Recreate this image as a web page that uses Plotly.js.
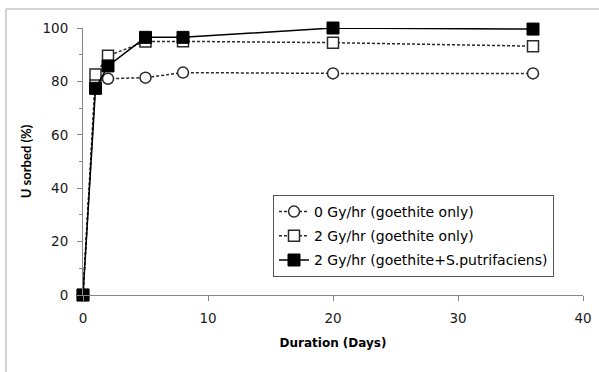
<!DOCTYPE html>
<html>
<head>
<meta charset="utf-8">
<script src="https://cdn.plot.ly/plotly-3.0.1.min.js"></script>
<style>html,body{margin:0;padding:0;background:#fff;}#chart{width:599px;height:372px;}</style>
</head>
<body>
<div id="chart"></div>
<script>
const days = [0, 1, 2, 5, 8, 20, 36];
const gy0Goethite = [0, 80, 81, 81.4, 83.3, 83, 83];
const gy2Goethite = [0, 82.6, 89.6, 94.9, 95, 94.5, 93.2];
const gy2GoethiteBact = [0, 77.4, 85.8, 96.5, 96.5, 100, 99.6];
const seriesNames = ["0 Gy/hr (goethite only)", "2 Gy/hr (goethite only)", "2 Gy/hr (goethite+S.putrifaciens)"];
const xTicks = [0, 10, 20, 30, 40];
const yTicks = [0, 20, 40, 60, 80, 100];

const lineCol = '#2a2a2a';
const traces = [
  {x: days, y: gy0Goethite, name: seriesNames[0], legendgroup: 'a', type: 'scatter', mode: 'lines+markers', cliponaxis: false,
   line: {color: lineCol, width: 1.5, dash: '3px,2px'},
   marker: {symbol: 'circle', size: 11, color: '#fff', line: {color: lineCol, width: 1.5}}},
  {x: days, y: gy2Goethite, name: seriesNames[1], legendgroup: 'b', type: 'scatter', mode: 'lines+markers', cliponaxis: false,
   line: {color: lineCol, width: 1.5, dash: '3px,2px'},
   marker: {symbol: 'square', size: 11, color: '#fff', line: {color: lineCol, width: 1.5}}},
  {x: days, y: gy2GoethiteBact, name: seriesNames[2], legendgroup: 'c', type: 'scatter', mode: 'lines+markers', cliponaxis: false,
   line: {color: '#000', width: 1.5},
   marker: {symbol: 'square', size: 12, color: '#000', line: {color: '#000', width: 1}}}
];

const wideFont = '"DejaVu Sans", Verdana, sans-serif';
const font = {family: wideFont, size: 13.5, color: '#1a1a1a'};
const layout = {
  width: 599, height: 372,
  margin: {l: 83, r: 16, t: 28, b: 77, pad: 0},
  paper_bgcolor: '#fff', plot_bgcolor: '#fff',
  font: font,
  showlegend: true,
  xaxis: {
    range: [0, 40], tickvals: xTicks, ticktext: xTicks.map(String),
    showgrid: false, zeroline: false, showline: true, linecolor: '#868686', linewidth: 1,
    ticks: 'outside', ticklen: 5, tickcolor: '#868686', ticklabelstandoff: 6,
    title: {text: '<b>Duration (Days)</b>', font: {family: wideFont, size: 12, color: '#000'}, standoff: 13}
  },
  yaxis: {
    range: [0, 100], tickvals: yTicks, ticktext: yTicks.map(String),
    showgrid: false, zeroline: false, showline: true, linecolor: '#868686', linewidth: 1,
    ticks: 'outside', ticklen: 5, tickcolor: '#868686', ticklabelstandoff: 6,
    minor: {dtick: 10, ticks: 'outside', ticklen: 3, tickcolor: '#868686', showgrid: false},
    title: {text: '<b>U sorbed (%)</b>', font: {family: 'Lato, "Open Sans", sans-serif', size: 13, color: '#000'}, standoff: 7}
  },
  legend: {
    x: 0.38, y: 0.3745, xanchor: 'left', yanchor: 'top',
    bgcolor: '#fff', bordercolor: '#555', borderwidth: 1,
    font: {family: wideFont, size: 14, color: '#000'},
    tracegroupgap: 3, itemwidth: 30
  },
  shapes: [
    {type: 'line', xref: 'paper', yref: 'paper', x0: -0.154, x1: 1.05, y0: 1.071, y1: 1.071, line: {color: '#c4c4c4', width: 1.5}},
    {type: 'line', xref: 'paper', yref: 'paper', x0: -0.154, x1: -0.154, y0: 1.071, y1: -0.3, line: {color: '#c4c4c4', width: 1.5}}
  ]
};
Plotly.newPlot('chart', traces, layout, {displayModeBar: false, staticPlot: true});
</script>
</body>
</html>
